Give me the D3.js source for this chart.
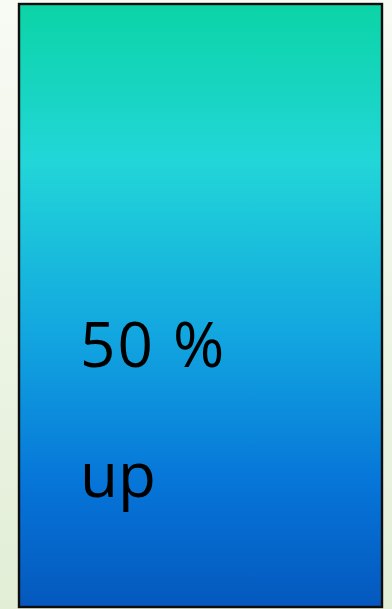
<!DOCTYPE html>
<html>
<head>
<meta charset="utf-8">
<script src="https://cdn.jsdelivr.net/npm/d3@7"></script>
<style>
  html, body { margin: 0; padding: 0; }
  svg { display: block; }
</style>
</head>
<body>
<div id="chart"></div>
<script>
// data
const categories = ['up'];
const values = [50];
const labels = ['50 %', 'up'];
const gradientStops = [
  { offset: 0, color: '#0bd4a6' },
  { offset: 0.26, color: '#22d6d8' },
  { offset: 0.55, color: '#12a6e0' },
  { offset: 0.8, color: '#0674d8' },
  { offset: 1, color: '#0558bd' }
];

const width = 392, height = 609;
const svg = d3.select('#chart').append('svg')
  .attr('width', width)
  .attr('height', height);

const defs = svg.append('defs');
const bg = defs.append('linearGradient')
  .attr('id', 'bg').attr('x1', 0).attr('y1', 0).attr('x2', 0).attr('y2', 1);
bg.append('stop').attr('offset', 0).attr('stop-color', '#f8faf4');
bg.append('stop').attr('offset', 1).attr('stop-color', '#e2eed6');

const fill = defs.append('linearGradient')
  .attr('id', 'fill').attr('x1', 0).attr('y1', 0).attr('x2', 0).attr('y2', 1);
fill.selectAll('stop').data(gradientStops).enter().append('stop')
  .attr('offset', d => d.offset)
  .attr('stop-color', d => d.color);

svg.append('rect')
  .attr('width', width).attr('height', height)
  .attr('fill', 'url(#bg)');

// one block that fills the plot
const x = d3.scaleBand().domain(categories).range([19, 382]).padding(0);
const y = d3.scaleLinear().domain([0, values[0]]).range([607, 4]);

svg.selectAll('rect.bar').data(values).enter().append('rect')
  .attr('class', 'bar')
  .attr('x', (d, i) => x(categories[i]))
  .attr('width', x.bandwidth())
  .attr('y', d => y(d))
  .attr('height', d => y(0) - y(d))
  .attr('fill', 'url(#fill)')
  .attr('stroke', '#0d0d0d')
  .attr('stroke-width', 2.4);

const textY = [367, 497];
svg.selectAll('text.lbl').data(labels).enter().append('text')
  .attr('class', 'lbl')
  .attr('x', 80)
  .attr('y', (d, i) => textY[i])
  .attr('font-family', 'Open Sans, sans-serif')
  .attr('font-size', 62)
  .attr('letter-spacing', (d, i) => i === 0 ? 2 : 0)
  .attr('fill', '#000')
  .text(d => d);
</script>
</body>
</html>
